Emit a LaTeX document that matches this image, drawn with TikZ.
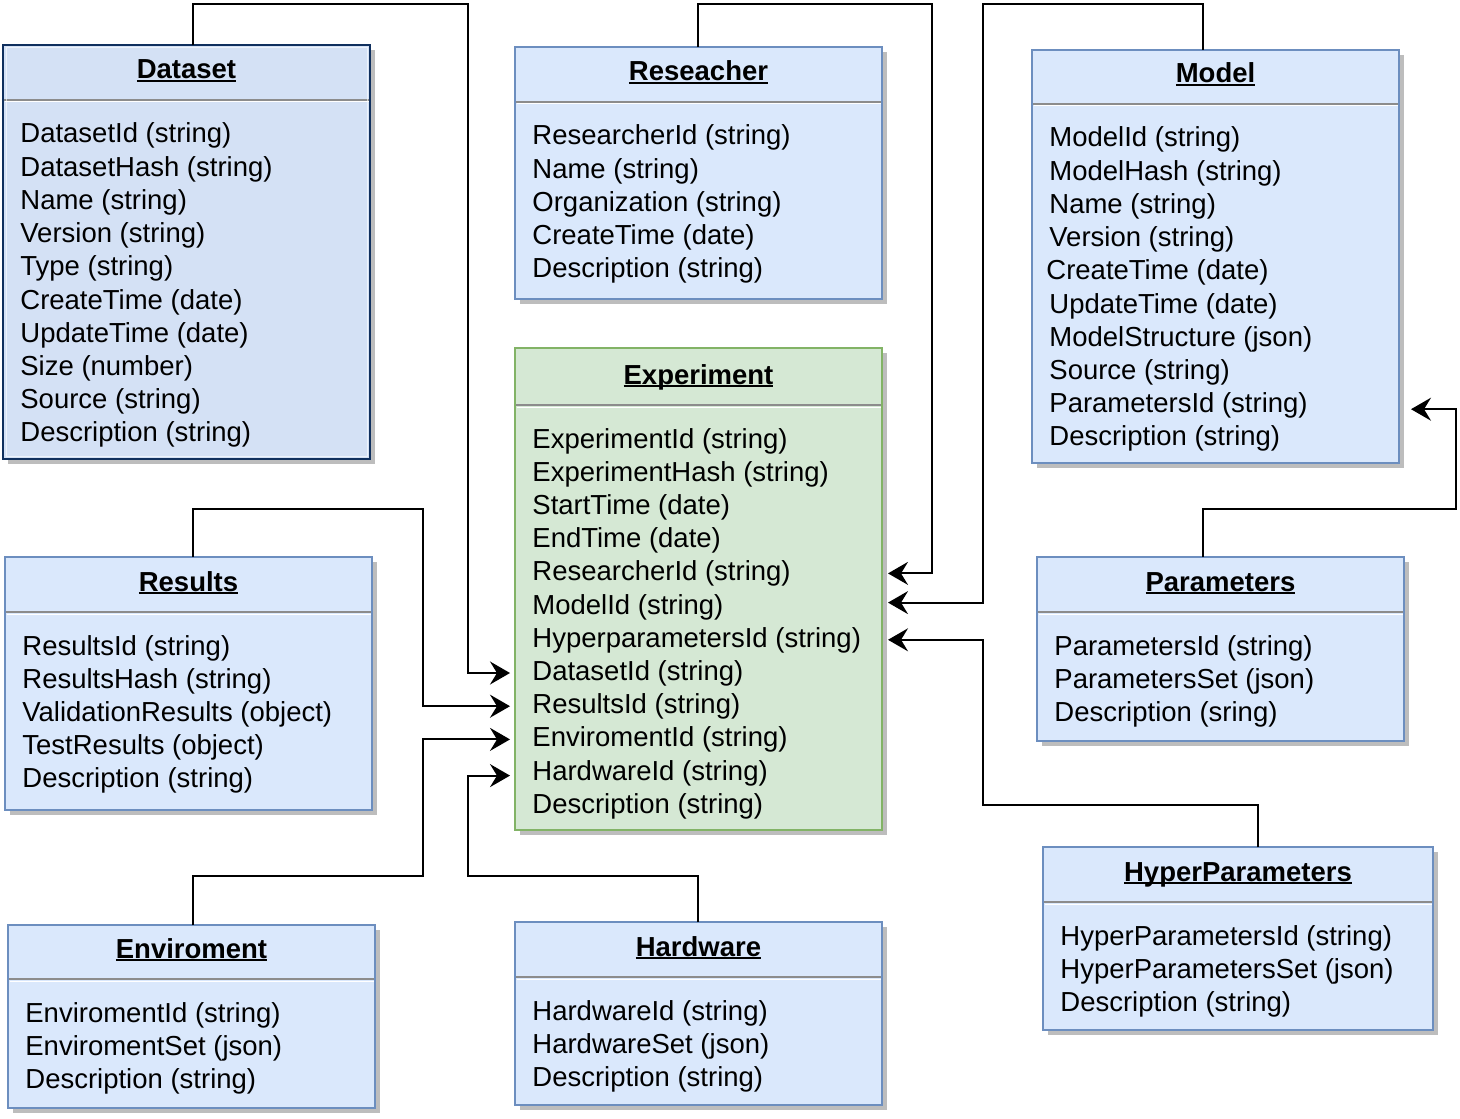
\documentclass[tikz,border=0pt]{standalone}
\usepackage{fontspec}
\setmainfont{Liberation Sans}
\usetikzlibrary{arrows.meta,calc}
\definecolor{bfill}{HTML}{DAE8FC}
\definecolor{bdraw}{HTML}{6C8EBF}
\definecolor{dfill}{HTML}{D4E1F5}
\definecolor{ddraw}{HTML}{10305E}
\definecolor{gfill}{HTML}{D5E8D4}
\definecolor{gdraw}{HTML}{82B366}
\definecolor{shadowc}{HTML}{BDBDBD}
\definecolor{sepc}{HTML}{8C8C8C}
\newcommand\ttlul[1]{\setbox0\hbox{#1}\rlap{\rule[-1.6pt]{\wd0}{0.9pt}}\box0}
\tikzset{
  boxbase/.style={rectangle, anchor=north west, inner sep=0pt, outer sep=0pt, line width=1pt},
  bluebox/.style={boxbase, fill=bfill, draw=bdraw},
  darkbox/.style={boxbase, fill=dfill, draw=ddraw, line width=1.4pt},
  greenbox/.style={boxbase, fill=gfill, draw=gdraw},
  titletext/.style={anchor=base, inner sep=0pt, font=\fontsize{13.75pt}{16pt}\selectfont\bfseries},
  attrtext/.style={anchor=base west, inner sep=0pt, font=\fontsize{13.75pt}{16pt}\selectfont, text height=0.95em, text depth=0.21em},
  conn/.style={line width=1pt, -{Stealth[length=10pt,width=11.5pt,inset=3.5pt]}, shorten >=2.5pt},
}
% #1 name, #2 style, #3 left, #4 top, #5 right, #6 bottom, #7 separator y, #8 title, #9 rows
\newcommand\entity[9]{%
  \fill[shadowc] (#3+5,#4+5) rectangle (#5+5,#6+5);
  \node[#2, minimum width={(#5-#3)*0.5pt}, minimum height={(#6-#4)*0.5pt}] (#1) at (#3,#4) {};
  \draw[sepc, line width=1pt] (#3+1,#7) -- (#5-1,#7);
  \draw[white, line width=0.5pt] (#3+1.5,#7+2) -- (#5-1.5,#7+2);
  \node[titletext] (#1-title) at ({(#3+#5)/2},{#7-21}) {\ttlul{#8}};
  \foreach \attrline [count=\i] in {#9} {
    \node[attrtext] (#1-\i) at ({#3+17},{#7+43+(\i-1)*33.2}) {\attrline};
  }
}
\begin{document}
\begin{tikzpicture}[x=0.5pt,y=-0.5pt]
\useasboundingbox (0,0) rectangle (1460,1118);
\entity{dataset}{darkbox}{3}{45}{370}{459}{100}{Dataset}{DatasetId (string),DatasetHash (string),Name (string),Version (string),Type (string),CreateTime (date),UpdateTime (date),Size (number),Source (string),Description (string)}
\draw[white, opacity=0.6, line width=0.5pt] ($(dataset.north west)+(3,3)$) rectangle ($(dataset.south east)+(-3,-3)$);
\entity{res}{bluebox}{515}{47}{882}{299}{102}{Reseacher}{ResearcherId (string),Name (string),Organization (string),CreateTime (date),Description (string)}
\entity{model}{bluebox}{1032}{50}{1399}{463}{104}{Model}{ModelId (string),ModelHash (string),Name (string),Version (string),{\hspace*{-1.5pt}CreateTime (date)},UpdateTime (date),ModelStructure (json),Source (string),ParametersId (string),Description (string)}
\entity{exp}{greenbox}{515}{348}{882}{830}{405}{Experiment}{ExperimentId (string),ExperimentHash (string),StartTime (date),EndTime (date),ResearcherId (string),ModelId (string),HyperparametersId (string),DatasetId (string),ResultsId (string),EnviromentId (string),HardwareId (string),Description (string)}
\entity{results}{bluebox}{5}{557}{372}{810}{612}{Results}{ResultsId (string),ResultsHash (string),ValidationResults (object),TestResults (object),Description (string)}
\entity{par}{bluebox}{1037}{557}{1404}{741}{612}{Parameters}{ParametersId (string),ParametersSet (json),Description (sring)}
\entity{hyp}{bluebox}{1043}{847}{1433}{1030}{902}{HyperParameters}{HyperParametersId (string),HyperParametersSet (json),Description (string)}
\entity{env}{bluebox}{8}{925}{375}{1108}{979}{Enviroment}{EnviromentId (string),EnviromentSet (json),Description (string)}
\entity{hw}{bluebox}{515}{922}{882}{1105}{977}{Hardware}{HardwareId (string),HardwareSet (json),Description (string)}
% connectors
\draw[conn] ($(dataset.north west)+(190,0)$) |- (468,4) |- (exp.west |- exp-8);
\draw[conn] ($(results.north west)+(188,0)$) |- (423,509) |- (exp.west |- exp-9);
\draw[conn] ($(env.north west)+(185,0)$) |- (423,876) |- (exp.west |- exp-10);
\draw[conn] ($(hw.north west)+(183,0)$) |- (468,876) |- ($(exp.west |- exp-11)+(0,3)$);
\draw[conn, shorten >=3pt] ($(res.north west)+(183,0)$) |- (932,4) |- (exp.east |- exp-5);
\draw[conn, shorten >=3pt] ($(model.north west)+(171,0)$) |- (983,4) |- ($(exp.east |- exp-6)+(0,-4)$);
\draw[conn, shorten >=3pt] ($(hyp.north west)+(215,0)$) |- (983,805) |- (exp.east |- exp-7);
\draw[conn, shorten >=6pt] ($(par.north west)+(166,0)$) |- (1456,509) |- ($(model.east |- model-9)+(0,4)$);
\end{tikzpicture}
\end{document}
